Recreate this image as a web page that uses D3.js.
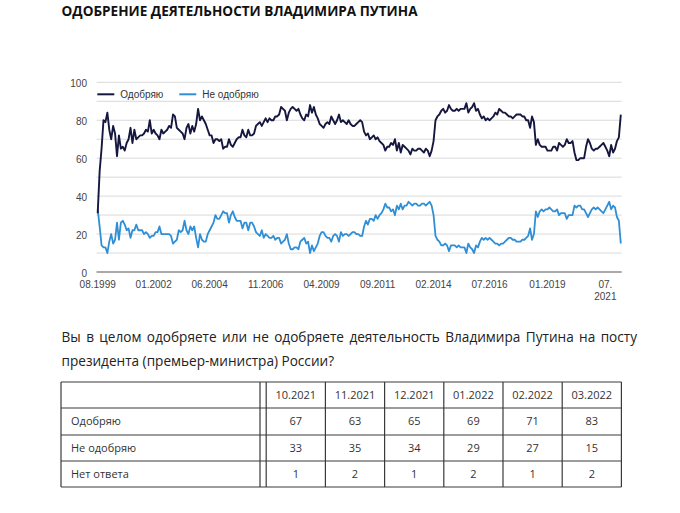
<!DOCTYPE html>
<html><head><meta charset="utf-8">
<script src="https://cdn.jsdelivr.net/npm/d3@7"></script>
<style>body{margin:0;background:#fff} svg{display:block}</style>
</head><body><svg id="c" width="680" height="513"></svg>
<script>
const titleText = "ОДОБРЕНИЕ ДЕЯТЕЛЬНОСТИ ВЛАДИМИРА ПУТИНА";
const seriesNames = ["Одобряю", "Не одобряю"];
const tickLabels = ["08.1999","01.2002","06.2004","11.2006","04.2009","09.2011","02.2014","07.2016","01.2019","07.2021"];
const yTicks = [0,20,40,60,80,100];
const firstMonth = "08.1999";
// monthly values, 08.1999 .. 03.2022
const approve = [
  31,53,65,80,79,
  84,75,70,77,73,61,72,65,66,64,68,70,
  76,68,75,70,71,72,72,73,75,74,80,73,
  75,73,72,70,75,73,74,75,77,76,83,82,
  76,75,74,73,70,76,78,73,77,74,78,86,
  80,82,80,78,75,72,72,68,70,70,69,70,
  65,66,66,70,67,66,68,70,71,71,75,72,
  71,75,72,72,73,77,78,79,77,79,81,79,
  81,80,80,82,82,83,87,86,85,80,84,86,
  87,86,85,86,83,81,80,83,82,88,84,87,
  83,81,78,77,76,78,79,78,82,80,78,80,
  83,79,80,79,78,80,78,77,77,78,79,80,
  79,74,72,73,70,71,72,70,71,69,68,67,
  64,66,66,68,67,70,64,68,63,67,66,65,
  64,62,65,64,64,65,65,64,63,65,64,61,
  64,69,80,82,83,85,86,84,85,88,86,85,
  85,86,85,86,86,86,89,84,86,87,89,85,
  86,83,81,82,80,81,80,81,82,84,83,86,
  85,84,84,83,82,82,81,82,83,83,83,82,
  82,80,80,76,82,79,67,70,67,66,66,66,
  64,64,64,66,66,64,68,67,66,67,70,68,
  68,69,63,59,59,60,60,60,66,70,68,65,
  64,65,65,66,67,68,66,64,61,67,63,65,
  69,71,83
];
const disapprove = [
  33,24,14,13,13,
  10,16,20,15,17,26,17,26,27,25,22,23,
  18,22,22,25,22,22,22,20,21,20,18,19,
  19,21,21,24,20,20,20,20,20,19,15,16,
  17,22,21,22,27,22,20,24,22,24,18,13,
  20,17,16,16,20,22,24,26,30,28,28,30,
  32,31,31,26,30,32,29,27,27,27,23,26,
  26,22,26,26,24,21,20,19,22,18,20,19,
  18,18,19,17,18,18,15,16,17,20,15,12,
  12,13,13,12,16,17,18,15,16,10,14,11,
  13,15,19,21,21,19,18,18,16,19,20,19,
  16,21,19,20,20,19,20,21,21,20,20,19,
  19,24,27,25,28,28,27,30,28,30,31,33,
  36,34,34,32,33,30,35,33,36,33,35,35,
  37,36,35,36,36,35,35,36,36,35,36,37,
  35,30,19,17,16,14,14,15,14,11,14,14,
  14,13,14,13,13,13,10,15,13,12,10,14,
  13,16,18,17,18,17,18,17,16,15,15,14,
  15,15,16,17,18,18,17,17,16,16,16,17,
  17,18,19,23,17,20,32,29,32,33,32,33,
  33,34,33,32,32,33,30,31,31,31,28,30,
  30,30,35,34,35,35,33,33,31,29,31,33,
  34,33,34,33,32,31,33,35,37,33,35,34,
  29,27,15
];
const questionLine1 = "Вы в целом одобряете или не одобряете деятельность Владимира Путина на посту";
const questionLine2 = "президента (премьер-министра) России?";
const tableCols = ["10.2021","11.2021","12.2021","01.2022","02.2022","03.2022"];
const tableRowLabels = ["Одобряю","Не одобряю","Нет ответа"];
const tableApprove = [67,63,65,69,71,83];
const tableDisapprove = [33,35,34,29,27,15];
const tableNoAnswer = [1,2,1,2,1,2];

const svg = d3.select("#c");
const parseM = d3.timeParse("%m.%Y");
const start = parseM(firstMonth);
const monthIndex = s => d3.timeMonth.count(start, parseM(s));
const idx = approve.map((d,i)=>i);

const colApprove = "#16173f", colDis = "#2f8fd6";
const chartFont = "'Liberation Sans', Arial, sans-serif";
const textFont = "'Open Sans', 'Noto Sans', sans-serif";

// title
svg.append("text").attr("x", 61.5).attr("y", 16.3)
  .attr("font-family", textFont).attr("font-weight", 700).attr("font-size", 13.3)
  .attr("fill", "#111").attr("textLength", 356).attr("lengthAdjust", "spacingAndGlyphs")
  .text(titleText);

// scales
const x = d3.scaleLinear().domain([0, approve.length - 1]).range([97.7, 620.8]);
const y = d3.scaleLinear().domain([0, 100]).range([272, 82.3]);
const gx0 = 96.5, gx1 = 621.7;

// gridlines
const grid = d3.range(10, 101, 10);
svg.append("g").selectAll("line").data(grid).join("line")
  .attr("x1", gx0).attr("x2", gx1).attr("y1", d => y(d)).attr("y2", d => y(d))
  .attr("stroke", "#d9d9d9").attr("stroke-width", 1);
svg.append("line").attr("x1", gx0).attr("x2", gx1).attr("y1", y(0)).attr("y2", y(0))
  .attr("stroke", "#8c8c8c").attr("stroke-width", 1.6);

// y axis
const yAxis = d3.axisLeft(y).tickValues(yTicks).tickSize(0).tickPadding(9.5);
const ya = svg.append("g").attr("transform", `translate(${gx0},0)`).call(yAxis);
ya.select(".domain").remove();
ya.selectAll("text").attr("font-family", chartFont).attr("font-size", 10).attr("fill", "#444").attr("dy", "0.4em");

// x tick labels
const xt = svg.append("g");
tickLabels.forEach(lbl => {
  const xi = x(monthIndex(lbl));
  const t = xt.append("text").attr("x", xi).attr("y", 287.5).attr("text-anchor", "middle")
    .attr("font-family", chartFont).attr("font-size", 10).attr("fill", "#444");
  if (lbl === tickLabels[tickLabels.length - 1]) {
    const [m, yr] = lbl.split(".");
    t.append("tspan").attr("x", xi).text(m + ".");
    t.append("tspan").attr("x", xi).attr("dy", 12).text(yr);
  } else t.text(lbl);
});

// lines
const line = arr => d3.line().x(i => x(i)).y(i => y(arr[i]))(idx);
svg.append("path").attr("d", line(disapprove)).attr("fill", "none")
  .attr("stroke", colDis).attr("stroke-width", 1.8).attr("stroke-linejoin", "round");
svg.append("path").attr("d", line(approve)).attr("fill", "none")
  .attr("stroke", colApprove).attr("stroke-width", 1.9).attr("stroke-linejoin", "round");

// legend
const leg = [{x: 97.3, c: colApprove, t: seriesNames[0]}, {x: 179.3, c: colDis, t: seriesNames[1]}];
leg.forEach(l => {
  svg.append("line").attr("x1", l.x).attr("x2", l.x + 17).attr("y1", 94.3).attr("y2", 94.3)
    .attr("stroke", l.c).attr("stroke-width", 2);
  svg.append("text").attr("x", l.x + 23).attr("y", 97.8).attr("font-family", chartFont)
    .attr("font-size", 10).attr("fill", "#333").text(l.t);
});

// question text
const q = svg.append("g").attr("font-family", textFont).attr("font-size", 13.6).attr("fill", "#222");
function justify(words, x0, x1, yy) {
  const nodes = words.map(w => q.append("text").attr("y", yy).text(w));
  const w = nodes.map(n => n.node().getComputedTextLength());
  const gap = (x1 - x0 - d3.sum(w)) / (words.length - 1);
  let cx = x0;
  nodes.forEach((n, i) => { n.attr("x", cx); cx += w[i] + gap; });
}
justify(questionLine1.split(" "), 61.5, 637, 341.5);
q.append("text").attr("x", 61.5).attr("y", 365.5).text(questionLine2);

// table
const tL = 61, tR = 621.4, dbl1 = 260, dbl2 = 266.2;
const rowsY = [382, 408, 435, 461, 487];
const colW = (tR - dbl2) / tableCols.length;
const colX = d3.range(tableCols.length + 1).map(i => dbl2 + i * colW);
const tb = svg.append("g");
const stroke = "#3a3a3a";
rowsY.forEach(yy => tb.append("line").attr("x1", tL).attr("x2", tR).attr("y1", yy).attr("y2", yy)
  .attr("stroke", stroke).attr("stroke-width", 1.2));
[tL, dbl1, ...colX].forEach(xx => tb.append("line").attr("x1", xx).attr("x2", xx)
  .attr("y1", rowsY[0]).attr("y2", rowsY[rowsY.length - 1]).attr("stroke", stroke).attr("stroke-width", 1.2));
const cellText = (tx, ty, s, anchor) => tb.append("text").attr("x", tx).attr("y", ty)
  .attr("text-anchor", anchor).attr("dy", "0.36em").attr("font-family", textFont)
  .attr("font-size", 11).attr("fill", "#333").text(s);
const mid = i => (rowsY[i] + rowsY[i + 1]) / 2;
tableCols.forEach((c, i) => cellText((colX[i] + colX[i + 1]) / 2, mid(0), c, "middle"));
const tableData = [tableApprove, tableDisapprove, tableNoAnswer];
tableRowLabels.forEach((lbl, r) => {
  cellText(71, mid(r + 1), lbl, "start");
  tableData[r].forEach((v, i) => cellText((colX[i] + colX[i + 1]) / 2, mid(r + 1), v, "middle"));
});
</script></body></html>
